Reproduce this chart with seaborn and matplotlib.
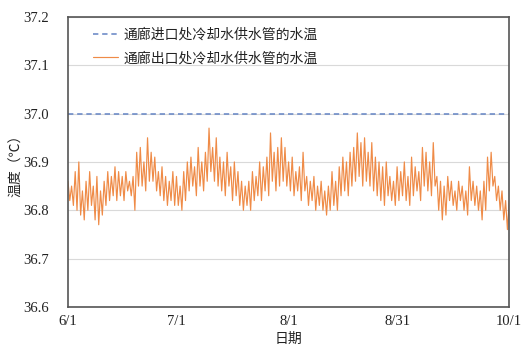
import numpy as np
import pandas as pd
import matplotlib
matplotlib.use("Agg")
import matplotlib.pyplot as plt
import seaborn as sns

# daily high / low of outlet water temperature, 6/1 .. 10/1
outlet_high = [
    36.86, 36.85, 36.88, 36.90, 36.84, 36.86, 36.88, 36.85, 36.87, 36.84,
    36.86, 36.88, 36.87, 36.89, 36.88, 36.87, 36.88, 36.86, 36.87, 36.92,
    36.93, 36.90, 36.95, 36.92, 36.91, 36.88, 36.89, 36.87, 36.86, 36.88,
    36.87, 36.85, 36.88, 36.90, 36.91, 36.89, 36.93, 36.90, 36.92, 36.97,
    36.93, 36.95, 36.91, 36.90, 36.92, 36.89, 36.90, 36.88, 36.86, 36.85,
    36.86, 36.88, 36.87, 36.90, 36.89, 36.91, 36.96, 36.92, 36.93, 36.95,
    36.93, 36.90, 36.91, 36.88, 36.89, 36.92, 36.87, 36.86, 36.87, 36.85,
    36.86, 36.84, 36.85, 36.88, 36.86, 36.89, 36.91, 36.90, 36.92, 36.93,
    36.96, 36.94, 36.95, 36.92, 36.94, 36.91, 36.90, 36.89, 36.90, 36.87,
    36.86, 36.89, 36.88, 36.90, 36.87, 36.91, 36.89, 36.88, 36.93, 36.92,
    36.90, 36.94, 36.87, 36.86, 36.85, 36.87, 36.86, 36.84, 36.86, 36.85,
    36.84, 36.89, 36.86, 36.85, 36.84, 36.86, 36.91, 36.92, 36.87, 36.85,
    36.84, 36.82, 36.82,
]
outlet_low = [
    36.82, 36.81, 36.80, 36.79, 36.78, 36.80, 36.81, 36.78, 36.77, 36.79,
    36.81, 36.82, 36.83, 36.82, 36.83, 36.82, 36.84, 36.83, 36.80, 36.85,
    36.85, 36.84, 36.86, 36.86, 36.84, 36.83, 36.82, 36.81, 36.82, 36.81,
    36.81, 36.80, 36.82, 36.84, 36.85, 36.83, 36.85, 36.84, 36.86, 36.88,
    36.86, 36.85, 36.84, 36.83, 36.85, 36.82, 36.83, 36.81, 36.80, 36.81,
    36.80, 36.82, 36.83, 36.82, 36.84, 36.83, 36.86, 36.84, 36.85, 36.86,
    36.85, 36.84, 36.83, 36.84, 36.82, 36.84, 36.81, 36.82, 36.80, 36.81,
    36.80, 36.79, 36.80, 36.81, 36.80, 36.83, 36.84, 36.83, 36.85, 36.86,
    36.87, 36.85, 36.86, 36.85, 36.84, 36.83, 36.82, 36.81, 36.83, 36.82,
    36.81, 36.82, 36.83, 36.82, 36.81, 36.83, 36.84, 36.82, 36.85, 36.84,
    36.83, 36.85, 36.80, 36.78, 36.79, 36.82, 36.81, 36.80, 36.82, 36.80,
    36.79, 36.82, 36.81, 36.80, 36.78, 36.80, 36.84, 36.85, 36.82, 36.80,
    36.78, 36.76, 36.79,
]
inlet_temp = 37.0

tick_days = [0, 30, 61, 91, 122]
tick_labels = ["6/1", "7/1", "8/1", "8/31", "10/1"]

# interleave high/low -> two points per day
days = np.arange(len(outlet_high))
df = pd.DataFrame({
    "day": np.concatenate([days + 0.0, days + 0.5]),
    "temp": np.concatenate([outlet_high, outlet_low]),
}).sort_values("day")

sns.set_theme(style="white")
plt.rcParams["font.family"] = ["Liberation Serif", "Noto Sans CJK SC"]
plt.rcParams["axes.unicode_minus"] = False

fig = plt.figure(figsize=(5.31, 3.46), dpi=100)
ax = fig.add_axes([0.128, 0.113, 0.831, 0.838])

ax.plot([0, 122], [inlet_temp, inlet_temp], ls=(0, (3.5, 2.5)), color="#6383C4",
        lw=1.1, label="通廊进口处冷却水供水管的水温")
sns.lineplot(data=df, x="day", y="temp", ax=ax, color="#EF8B47", lw=0.85,
             label="通廊出口处冷却水供水管的水温")

ax.set_xlim(0, 122)
ax.set_ylim(36.6, 37.2)
ax.set_yticks(np.arange(36.6, 37.21, 0.1))
ax.set_yticklabels([f"{v:.1f}" for v in np.arange(36.6, 37.21, 0.1)])
ax.set_xticks(tick_days)
ax.set_xticklabels(tick_labels)
ax.yaxis.grid(True, color="#D9D9D9", lw=0.8)
ax.set_axisbelow(True)

ax.tick_params(axis="both", direction="in", length=4, width=1, color="#404040",
               labelsize=10.5, labelcolor="#222222")
ax.tick_params(axis="y", pad=14)
ax.tick_params(axis="x", pad=6)
for s in ax.spines.values():
    s.set_color("#555555")
    s.set_linewidth(1.2)

ax.set_xlabel("日期", fontsize=10, labelpad=3, color="#222222")
ax.set_ylabel("温度（℃）", fontsize=10, labelpad=0, color="#222222")

leg = ax.legend(loc="upper left", bbox_to_anchor=(0.035, 0.995), frameon=False,
                fontsize=10, handlelength=1.8, handletextpad=0.4,
                borderaxespad=0.3, labelspacing=0.7)
for t in leg.get_texts():
    t.set_color("#222222")

fig.savefig("out.png", dpi=100)
